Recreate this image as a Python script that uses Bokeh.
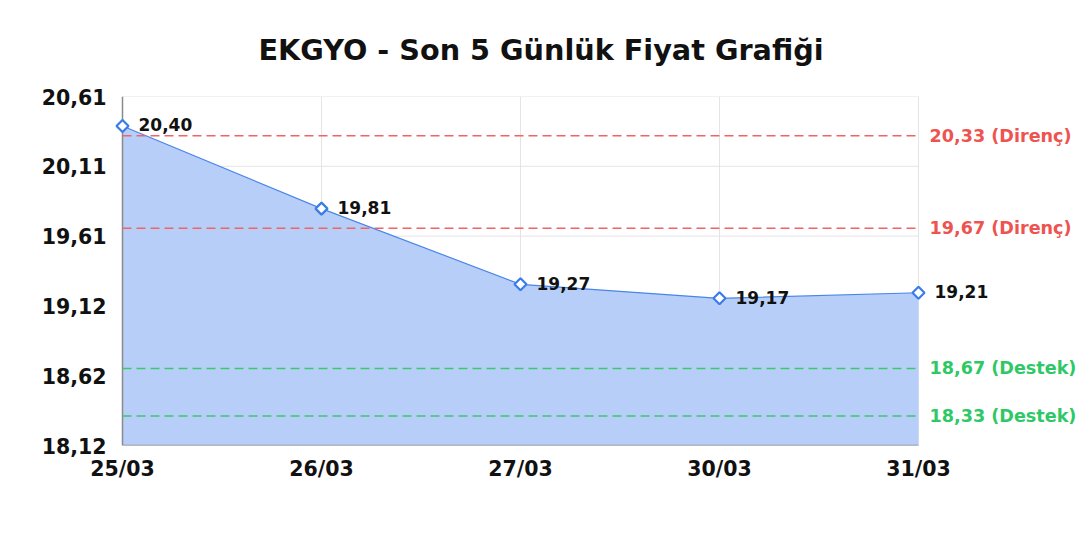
import math
from bokeh.plotting import figure
from bokeh.models import Range1d, FixedTicker, CustomJSTickFormatter, Label, ColumnDataSource, LabelSet
from bokeh.core.properties import value
from bokeh.embed import file_html
from bokeh.resources import INLINE

dates = ["25/03", "26/03", "27/03", "30/03", "31/03"]
prices = [20.40, 19.81, 19.27, 19.17, 19.21]
y_ticks = [18.12, 18.618, 19.116, 19.614, 20.112, 20.61]
resistance = [20.33, 19.67]
support = [18.67, 18.33]
title = "EKGYO - Son 5 Günlük Fiyat Grafiği"

FONT = "DejaVu Sans"
fmt = lambda v: f"{v:.2f}".replace(".", ",")
xs = list(range(len(dates)))
src = ColumnDataSource(dict(x=xs, y=prices, lbl=[fmt(v) for v in prices]))

# layout (pixels)
W, H = 1078, 532
FL, FR = 114, W          # frame left / right edges
DL, DR = 122, 918        # where first / last date sit
ppu = (DR - DL) / (len(xs) - 1)
x_lo = xs[0] - (DL - FL) / ppu
x_hi = xs[-1] + (FR - DR) / ppu

p = figure(width=W, height=H, output_backend="svg", toolbar_location=None,
           x_range=Range1d(x_lo, x_hi), y_range=Range1d(y_ticks[0], y_ticks[-1]),
           min_border_left=FL, min_border_right=0, min_border_top=95, min_border_bottom=87)
p.outline_line_color = None
p.title.text = title
p.title.align = "left"
p.title.offset = 144
p.title.text_font = FONT
p.title.text_font_size = "28.7px"
p.title.text_font_style = "bold"
p.title.text_color = "#111111"
p.title.standoff = 60

# grid lines restricted to data span
p.segment(x0=xs[0], x1=xs[-1], y0=y_ticks, y1=y_ticks, line_color="#e4e4e4", line_width=1)
p.xgrid.ticker = FixedTicker(ticks=xs)
p.xgrid.grid_line_color = "#e4e4e4"
p.ygrid.grid_line_color = None

p.varea(x="x", y1=y_ticks[0], y2="y", source=src, fill_color="#b7cff8", fill_alpha=1.0)
p.line(x="x", y="y", source=src, line_color="#4a86e8", line_width=1.2)

# axis lines
p.segment(x0=[xs[0], xs[0]], x1=[xs[0], xs[-1]], y0=[y_ticks[0], y_ticks[0]], y1=[y_ticks[-1], y_ticks[0]],
          line_color="#8a8a8a", line_width=1.5)

p.segment(x0=xs[0], x1=xs[-1], y0=resistance, y1=resistance, line_color="#f06464",
          line_dash="9 5", line_width=1.5)
p.segment(x0=xs[0], x1=xs[-1], y0=support, y1=support, line_color="#3cc86e",
          line_dash="9 5", line_width=1.5)
for v in resistance:
    p.add_layout(Label(x=xs[-1], y=v, text=fmt(v) + " (Direnç)", x_offset=11,
                       text_baseline="middle", text_color="#ef5350", text_font=FONT,
                       text_font_size="17.6px", text_font_style="bold"))
for v in support:
    p.add_layout(Label(x=xs[-1], y=v, text=fmt(v) + " (Destek)", x_offset=11,
                       text_baseline="middle", text_color="#2ec866", text_font=FONT,
                       text_font_size="17.6px", text_font_style="bold"))

p.scatter(x="x", y="y", source=src, marker="square", angle=math.pi / 4, size=8.5,
          fill_color="white", line_color="#3b7de8", line_width=2.2)
p.add_layout(LabelSet(x="x", y="y", text="lbl", source=src, x_offset=16, y_offset=1,
                      text_baseline="middle", text_font=value(FONT), text_font_size=value("17px"),
                      text_font_style=value("bold"), text_color="#111111"))

p.xaxis.ticker = FixedTicker(ticks=xs)
p.xaxis.major_label_overrides = {i: d for i, d in zip(xs, dates)}
p.yaxis.ticker = FixedTicker(ticks=y_ticks)
p.yaxis.formatter = CustomJSTickFormatter(code="return tick.toFixed(2).replace('.', ',');")
for ax in (p.xaxis, p.yaxis):
    ax.axis_line_color = None
    ax.major_tick_line_color = None
    ax.minor_tick_line_color = None
    ax.major_label_text_font = FONT
    ax.major_label_text_font_size = "20.5px"
    ax.major_label_text_font_style = "bold"
    ax.major_label_text_color = "#111111"
p.yaxis.major_label_standoff = 2
p.xaxis.major_label_standoff = 5

open("out.html", "w").write(file_html(p, INLINE))
